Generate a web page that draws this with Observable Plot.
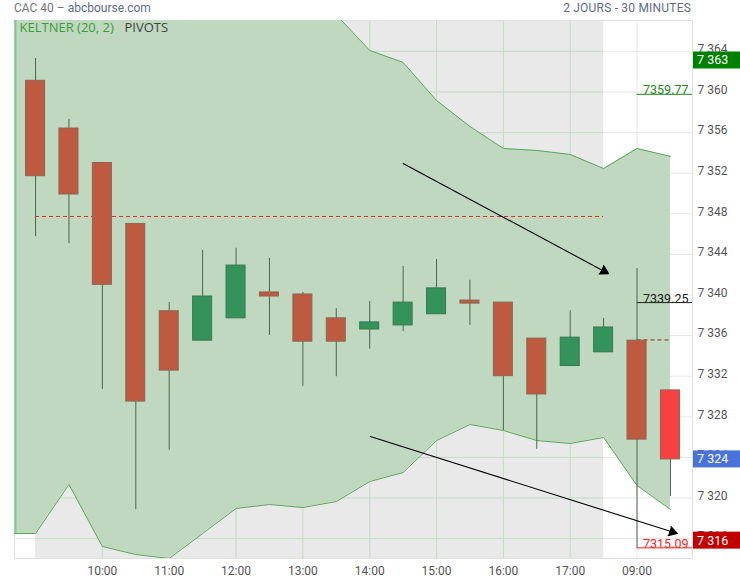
<!DOCTYPE html>
<html><head><meta charset="utf-8">
<script src="https://cdn.jsdelivr.net/npm/d3@7"></script>
<script src="https://cdn.jsdelivr.net/npm/@observablehq/plot@0.6"></script>
<style>
body{margin:0;background:#fff;font-family:Roboto,"Open Sans",sans-serif;}
#head{position:relative;height:20px;width:740px;font-size:12px;}
#head .l{position:absolute;left:14px;top:1px;color:#777}
#head .r{position:absolute;right:49px;top:1px;color:#5f6b88;letter-spacing:0.2px}
#chart svg{display:block}
</style></head><body>
<div id="head"><span class="l">CAC 40 – <span style="color:#5b6b8f">abcbourse.com</span></span><span class="r">2 JOURS - 30 MINUTES</span></div>
<div id="chart"></div>
<script>
// ---- data ----
const times = ["09:00","09:30","10:00","10:30","11:00","11:30","12:00","12:30","13:00","13:30","14:00","14:30","15:00","15:30","16:00","16:30","17:00","17:30","09:00","09:30"];
const open  = [7361.1, 7356.4, 7353.0, 7347.0, 7338.4, 7335.5, 7337.7, 7340.25, 7340.05, 7337.7, 7336.6, 7337.0, 7338.1, 7339.45, 7339.25, 7335.7, 7333.0, 7334.35, 7335.5, 7330.6];
const high  = [7363.3, 7357.3, 7353.0, 7347.0, 7339.25, 7344.4, 7344.6, 7343.6, 7340.25, 7338.65, 7339.35, 7342.8, 7343.5, 7341.45, 7339.25, 7335.7, 7338.45, 7337.7, 7342.6, 7330.6];
const low   = [7345.75, 7345.05, 7330.7, 7318.85, 7324.7, 7335.5, 7337.7, 7336.0, 7331.0, 7331.95, 7334.65, 7336.4, 7338.1, 7337.0, 7326.65, 7324.8, 7332.95, 7334.35, 7315.09, 7320.15];
const close = [7351.7, 7349.9, 7341.0, 7329.5, 7332.55, 7339.85, 7342.9, 7339.85, 7335.4, 7335.4, 7337.3, 7339.25, 7340.65, 7339.15, 7332.0, 7330.2, 7335.8, 7336.8, 7325.75, 7323.8];
// Keltner (20, 2) bands
const keltnerUpper = [7372, 7373, 7374, 7374, 7373.5, 7372.5, 7371.5, 7370.5, 7369.5, 7367.6, 7364.09, 7362.91, 7359.16, 7356.6, 7354.43, 7354.24, 7353.84, 7352.46, 7354.43, 7353.65];
const keltnerLower = [7316.5, 7321.33, 7315.22, 7314.43, 7314.04, 7316.5, 7318.97, 7319.36, 7319.06, 7319.65, 7321.62, 7322.51, 7325.66, 7327.24, 7326.65, 7325.66, 7325.37, 7325.96, 7321.23, 7318.87];
// pivots (dashed) per day
const pivotValue = [7347.73, 7335.57];
const pivotFrom = [0, 18];
const pivotTo = [17, 19];
// previous-day levels
const levelValue = [7359.77, 7339.25, 7315.09];
const levelColor = ["#1f8a1f", "#222222", "#ff2020"];
// arrows (trend lines drawn on chart)
const arrowX1 = [11.0, 10.02], arrowY1 = [7352.95, 7326.05];
const arrowX2 = [17.15, 19.21], arrowY2 = [7342.1, 7316.5];
// price tags on the right axis
const tagValue = [7363.1, 7323.8, 7315.8];
const tagColor = ["#008000", "#4a72db", "#c00000"];
// axis ticks
const yTicks = d3.range(7316, 7365, 4);
const xTicks = [2, 4, 6, 8, 10, 12, 14, 16, 18];
const sessionStart = 0, sessionEnd = 17;

// ---- build ----
const xMin = -0.63, xMax = 19.66;
const yDomain = [7314.04, 7367.04];
const n = times.length;
const idx = d3.range(n);
const candles = idx.map(i => ({i, o: open[i], h: high[i], l: low[i], c: close[i]}));
const band = [{x: xMin, lo: keltnerLower[0], up: keltnerUpper[0]}, ...idx.map(i => ({x: i, lo: keltnerLower[i], up: keltnerUpper[i]}))];
const pivots = pivotValue.map((v, k) => ({v, a: pivotFrom[k], b: pivotTo[k], c: k === 0 ? "#e0301e" : "#8a2a1a"}));
const levels = levelValue.map((v, k) => ({v, c: levelColor[k]}));
const arrows = arrowX1.map((_, k) => ({x1: arrowX1[k], y1: arrowY1[k], x2: arrowX2[k], y2: arrowY2[k]}));
const fmt = v => d3.format(",")(Math.round(v)).replace(",", " ");

const chart = Plot.plot({
  width: 740, height: 560,
  marginTop: 0, marginBottom: 22, marginLeft: 14, marginRight: 48,
  style: {fontFamily: "Roboto, sans-serif", fontSize: "12px", color: "#555", background: "white", overflow: "visible"},
  x: {domain: [xMin, xMax], axis: null},
  y: {domain: yDomain, axis: null},
  marks: [
    Plot.rect([{a: sessionStart, b: sessionEnd}], {x1: "a", x2: "b", fill: "#e9e9e9"}),
    Plot.ruleY(yTicks, {stroke: "#e6e6e6"}),
    Plot.ruleY(yTicks, {x1: sessionStart, x2: sessionEnd, stroke: "#c3dcc3"}),
    Plot.ruleX(xTicks.filter(t => t <= sessionEnd), {stroke: "#c3dcc3"}),
    Plot.ruleX(xTicks.filter(t => t > sessionEnd), {stroke: "#e6e6e6"}),
    Plot.frame({stroke: "#e0e0e0"}),
    Plot.areaY(band, {x: "x", y1: "lo", y2: "up", fill: "#bfd8bf", clip: true}),
    Plot.line(band, {x: "x", y: "up", stroke: "#5aa85a", strokeWidth: 1, clip: true}),
    Plot.line(band, {x: "x", y: "lo", stroke: "#5aa85a", strokeWidth: 1, clip: true}),
    Plot.ruleX([xMin], {y1: keltnerLower[0], y2: yDomain[1], stroke: "#86c986", strokeWidth: 2, dx: 1}),
    Plot.ruleY(pivots, {y: "v", x1: "a", x2: "b", stroke: "c", strokeDasharray: "4,3", strokeWidth: 1}),
    Plot.ruleY(levels, {y: "v", x1: 18, x2: xMax, stroke: "c"}),
    Plot.text(levels, {y: "v", text: d => d.v.toFixed(2), frameAnchor: "right", textAnchor: "end", lineAnchor: "bottom", dx: -4, dy: 0, fill: "c", fontSize: 12.5}),
    Plot.ruleX(candles, {x: "i", y1: "l", y2: "h", stroke: "#4a6650"}),
    Plot.rect(candles, {
      x1: d => d.i - 0.5, x2: d => d.i + 0.5, insetLeft: 7.2, insetRight: 7.2,
      y1: "o", y2: "c",
      fill: d => d.i === n - 1 ? "#f84040" : (d.c < d.o ? "#be5a40" : "#33935a"),
      stroke: d => d.c < d.o ? "#8d6655" : "#3a7a52"
    }),
    Plot.arrow(arrows, {x1: "x1", y1: "y1", x2: "x2", y2: "y2", stroke: "black", fill: "black", headLength: 13, strokeWidth: 1.1}),
    Plot.text(["KELTNER (20, 2)"], {frameAnchor: "top-left", dx: 5, dy: 2, fill: "#3c9c3c", fontSize: 13, fontFamily: "'Open Sans', sans-serif"}),
    Plot.text(["PIVOTS"], {frameAnchor: "top-left", dx: 110, dy: 2, fill: "#444", fontSize: 13, fontFamily: "'Open Sans', sans-serif"}),
    Plot.axisY({anchor: "right", ticks: yTicks, tickSize: 0, tickPadding: 5, tickFormat: fmt, dy: -2, fill: "#555"}),
    Plot.axisX({ticks: xTicks, tickSize: 0, tickPadding: 8, tickFormat: i => times[i], fill: "#555"})
  ]
});

document.getElementById("chart").appendChild(chart);

// price tags positioned with Plot's y scale
const ys = chart.scale("y");
const svg = d3.select(chart);
const g = svg.append("g").attr("text-anchor", "start");
tagValue.forEach((v, k) => {
  const y = ys.apply(v);
  g.append("rect").attr("x", 693).attr("y", y - 8.5).attr("width", 47).attr("height", 17).attr("fill", tagColor[k]);
  g.append("text").attr("x", 697).attr("y", y).attr("dy", "0.35em").attr("fill", "white")
    .attr("text-anchor", "start").attr("font-size", 12.5).text(fmt(v));
});
</script>
</body></html>
